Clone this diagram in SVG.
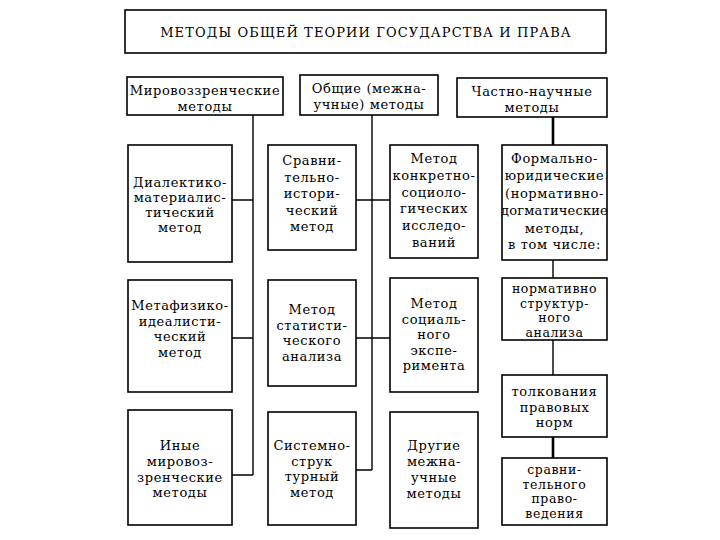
<svg xmlns="http://www.w3.org/2000/svg" width="720" height="540" viewBox="0 0 720 540">
<style>
.box{fill:#fff;stroke:#000;stroke-width:1.6}
.t{font-family:"DejaVu Serif","Liberation Serif",serif;font-size:13px;letter-spacing:0.6px;text-anchor:middle;fill:#000}
.s{font-size:12.5px}
.title{font-family:"DejaVu Serif","Liberation Serif",serif;font-size:13px;letter-spacing:1.1px;text-anchor:middle;fill:#000}
.c{stroke:#000;stroke-width:1.4;fill:none}
.ck{stroke:#000;stroke-width:2.6;fill:none}
</style>
<rect width="720" height="540" fill="#fff"/>
<g id="connectors">
<path class="c" d="M253 115V475M232 200H253M232 338H253M232 475H253"/>
<path class="c" d="M372 115V470M356 200H390M356 338H390M356 470H372"/>
<path class="ck" d="M553 117V145"/>
<path class="c" d="M553 260V278M553 340V375"/>
<path class="ck" d="M553 437V458"/>
</g>
<g id="title"><rect class="box" x="125" y="10" width="481" height="43"/><text class="title" x="366" y="37">МЕТОДЫ ОБЩЕЙ ТЕОРИИ ГОСУДАРСТВА И ПРАВА</text></g>
<g id="worldview"><rect class="box" x="127" y="77" width="156" height="38"/><text class="t"><tspan x="205" y="95">Мировоззренческие</tspan><tspan x="205" y="111">методы</tspan></text></g>
<g id="general"><rect class="box" x="300" y="75" width="138" height="40"/><text class="t"><tspan x="369" y="93">Общие (межна-</tspan><tspan x="369" y="109">учные) методы</tspan></text></g>
<g id="special"><rect class="box" x="457" y="78" width="150" height="39"/><text class="t"><tspan x="532" y="96">Частно-научные</tspan><tspan x="532" y="112">методы</tspan></text></g>

<g id="dialectic"><rect class="box" x="128" y="145" width="104" height="117"/><text class="t"><tspan x="180" y="187">Диалектико-</tspan><tspan x="180" y="202">материалис-</tspan><tspan x="180" y="217">тический</tspan><tspan x="180" y="232">метод</tspan></text></g>
<g id="metaphysic"><rect class="box" x="128" y="280" width="104" height="112"/><text class="t"><tspan x="180" y="310">Метафизико-</tspan><tspan x="180" y="325.5">идеалисти-</tspan><tspan x="180" y="341">ческий</tspan><tspan x="180" y="356.5">метод</tspan></text></g>
<g id="other-worldview"><rect class="box" x="128" y="410" width="104" height="115"/><text class="t"><tspan x="180" y="450">Иные</tspan><tspan x="180" y="466">мировоз-</tspan><tspan x="180" y="482">зренческие</tspan><tspan x="180" y="497">методы</tspan></text></g>

<g id="comparative-historical"><rect class="box" x="268" y="145" width="88" height="105"/><text class="t"><tspan x="312" y="165">Сравни-</tspan><tspan x="312" y="182">тельно-</tspan><tspan x="312" y="198">истори-</tspan><tspan x="312" y="215">ческий</tspan><tspan x="312" y="231">метод</tspan></text></g>
<g id="statistical"><rect class="box" x="268" y="280" width="88" height="106"/><text class="t"><tspan x="312" y="314">Метод</tspan><tspan x="312" y="329.5">статисти-</tspan><tspan x="312" y="345">ческого</tspan><tspan x="312" y="360.5">анализа</tspan></text></g>
<g id="system-structural"><rect class="box" x="268" y="412" width="88" height="113"/><text class="t"><tspan x="312" y="450">Системно-</tspan><tspan x="312" y="465.5">струк</tspan><tspan x="312" y="481">турный</tspan><tspan x="312" y="496.5">метод</tspan></text></g>

<g id="sociological"><rect class="box" x="390" y="145" width="88" height="113"/><text class="t"><tspan x="434" y="163">Метод</tspan><tspan x="434" y="180">конкретно-</tspan><tspan x="434" y="197">социоло-</tspan><tspan x="434" y="213">гических</tspan><tspan x="434" y="230">исследо-</tspan><tspan x="434" y="247">ваний</tspan></text></g>
<g id="social-experiment"><rect class="box" x="390" y="278" width="88" height="114"/><text class="t"><tspan x="434" y="308">Метод</tspan><tspan x="434" y="323.5">социаль-</tspan><tspan x="434" y="339">ного</tspan><tspan x="434" y="354.5">экспе-</tspan><tspan x="434" y="370">римента</tspan></text></g>
<g id="other-general"><rect class="box" x="390" y="412" width="88" height="116"/><text class="t"><tspan x="434" y="450">Другие</tspan><tspan x="434" y="466">межна-</tspan><tspan x="434" y="482">учные</tspan><tspan x="434" y="498">методы</tspan></text></g>

<g id="formal-legal"><rect class="box" x="502" y="145" width="105" height="115"/><text class="t"><tspan x="554.5" y="163">Формально-</tspan><tspan x="554.5" y="180">юридические</tspan><tspan x="554.5" y="198">(нормативно-</tspan><tspan x="554.5" y="215" letter-spacing="0.2">догматические</tspan><tspan x="554.5" y="233">методы,</tspan><tspan x="554.5" y="249">в том числе:</tspan></text></g>
<g id="normative-structural"><rect class="box" x="502" y="278" width="105" height="62"/><text class="t s"><tspan x="554.5" y="293">нормативно</tspan><tspan x="554.5" y="307.5">структур-</tspan><tspan x="554.5" y="322">ного</tspan><tspan x="554.5" y="336.5">анализа</tspan></text></g>
<g id="interpretation"><rect class="box" x="502" y="375" width="105" height="62"/><text class="t"><tspan x="554.5" y="396">толкования</tspan><tspan x="554.5" y="412">правовых</tspan><tspan x="554.5" y="427">норм</tspan></text></g>
<g id="comparative-law"><rect class="box" x="502" y="458" width="105" height="67"/><text class="t s"><tspan x="554.5" y="474">сравни-</tspan><tspan x="554.5" y="488.5">тельного</tspan><tspan x="554.5" y="503">право-</tspan><tspan x="554.5" y="517.5">ведения</tspan></text></g>
</svg>
